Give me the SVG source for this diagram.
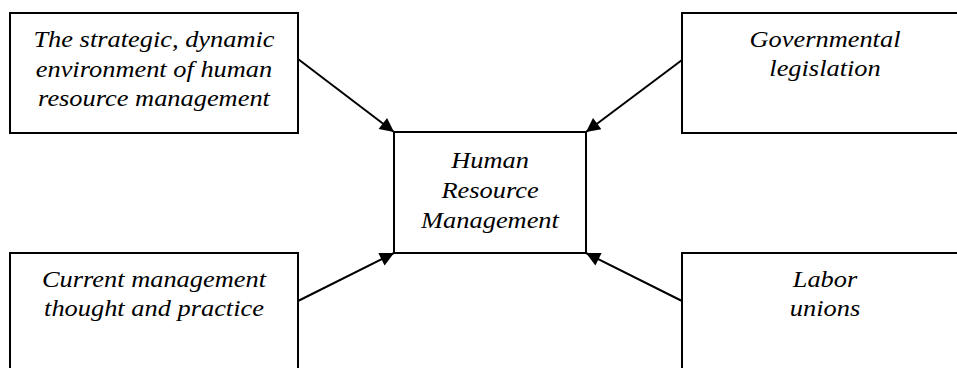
<svg xmlns="http://www.w3.org/2000/svg" width="957" height="368" viewBox="0 0 957 368">
  <style>
    .box { fill: #ffffff; stroke: #000000; stroke-width: 2; }
    .label { font-family: "Liberation Serif", "Times New Roman", serif; font-style: italic; font-size: 24px; fill: #000000; text-anchor: middle; }
    .conn { stroke: #000000; stroke-width: 2; fill: none; marker-end: url(#arrow); }
  </style>
  <defs>
    <marker id="arrow" viewBox="0 0 10 10" refX="10" refY="5" markerWidth="8" markerHeight="7" markerUnits="strokeWidth" orient="auto">
      <path d="M0,0 L10,5 L0,10 Z" fill="#000000"/>
    </marker>
  </defs>
  <rect width="957" height="368" fill="#ffffff"/>

  <g id="connectors">
    <line class="conn" x1="298" y1="59" x2="394" y2="132"/>
    <line class="conn" x1="682" y1="60" x2="586" y2="132"/>
    <line class="conn" x1="298" y1="301" x2="394" y2="253"/>
    <line class="conn" x1="682" y1="301" x2="586" y2="253"/>
  </g>

  <g id="node-environment">
    <rect class="box" x="10" y="13" width="288" height="120"/>
    <g transform="translate(154,0) scale(1.1,1)">
      <text class="label" x="0" y="47">The strategic, dynamic</text>
      <text class="label" x="0" y="77">environment of human</text>
      <text class="label" x="0" y="106">resource management</text>
    </g>
  </g>

  <g id="node-legislation">
    <rect class="box" x="682" y="13" width="288" height="120"/>
    <g transform="translate(825,0) scale(1.1,1)">
      <text class="label" x="0" y="47">Governmental</text>
      <text class="label" x="0" y="76">legislation</text>
    </g>
  </g>

  <g id="node-hrm">
    <rect class="box" x="394" y="132" width="192" height="121"/>
    <g transform="translate(490,0) scale(1.1,1)">
      <text class="label" x="0" y="168">Human</text>
      <text class="label" x="0" y="198">Resource</text>
      <text class="label" x="0" y="228">Management</text>
    </g>
  </g>

  <g id="node-management">
    <rect class="box" x="10" y="253" width="288" height="130"/>
    <g transform="translate(154,0) scale(1.1,1)">
      <text class="label" x="0" y="287">Current management</text>
      <text class="label" x="0" y="316">thought and practice</text>
    </g>
  </g>

  <g id="node-unions">
    <rect class="box" x="682" y="253" width="288" height="130"/>
    <g transform="translate(825,0) scale(1.1,1)">
      <text class="label" x="0" y="287">Labor</text>
      <text class="label" x="0" y="316">unions</text>
    </g>
  </g>
</svg>
